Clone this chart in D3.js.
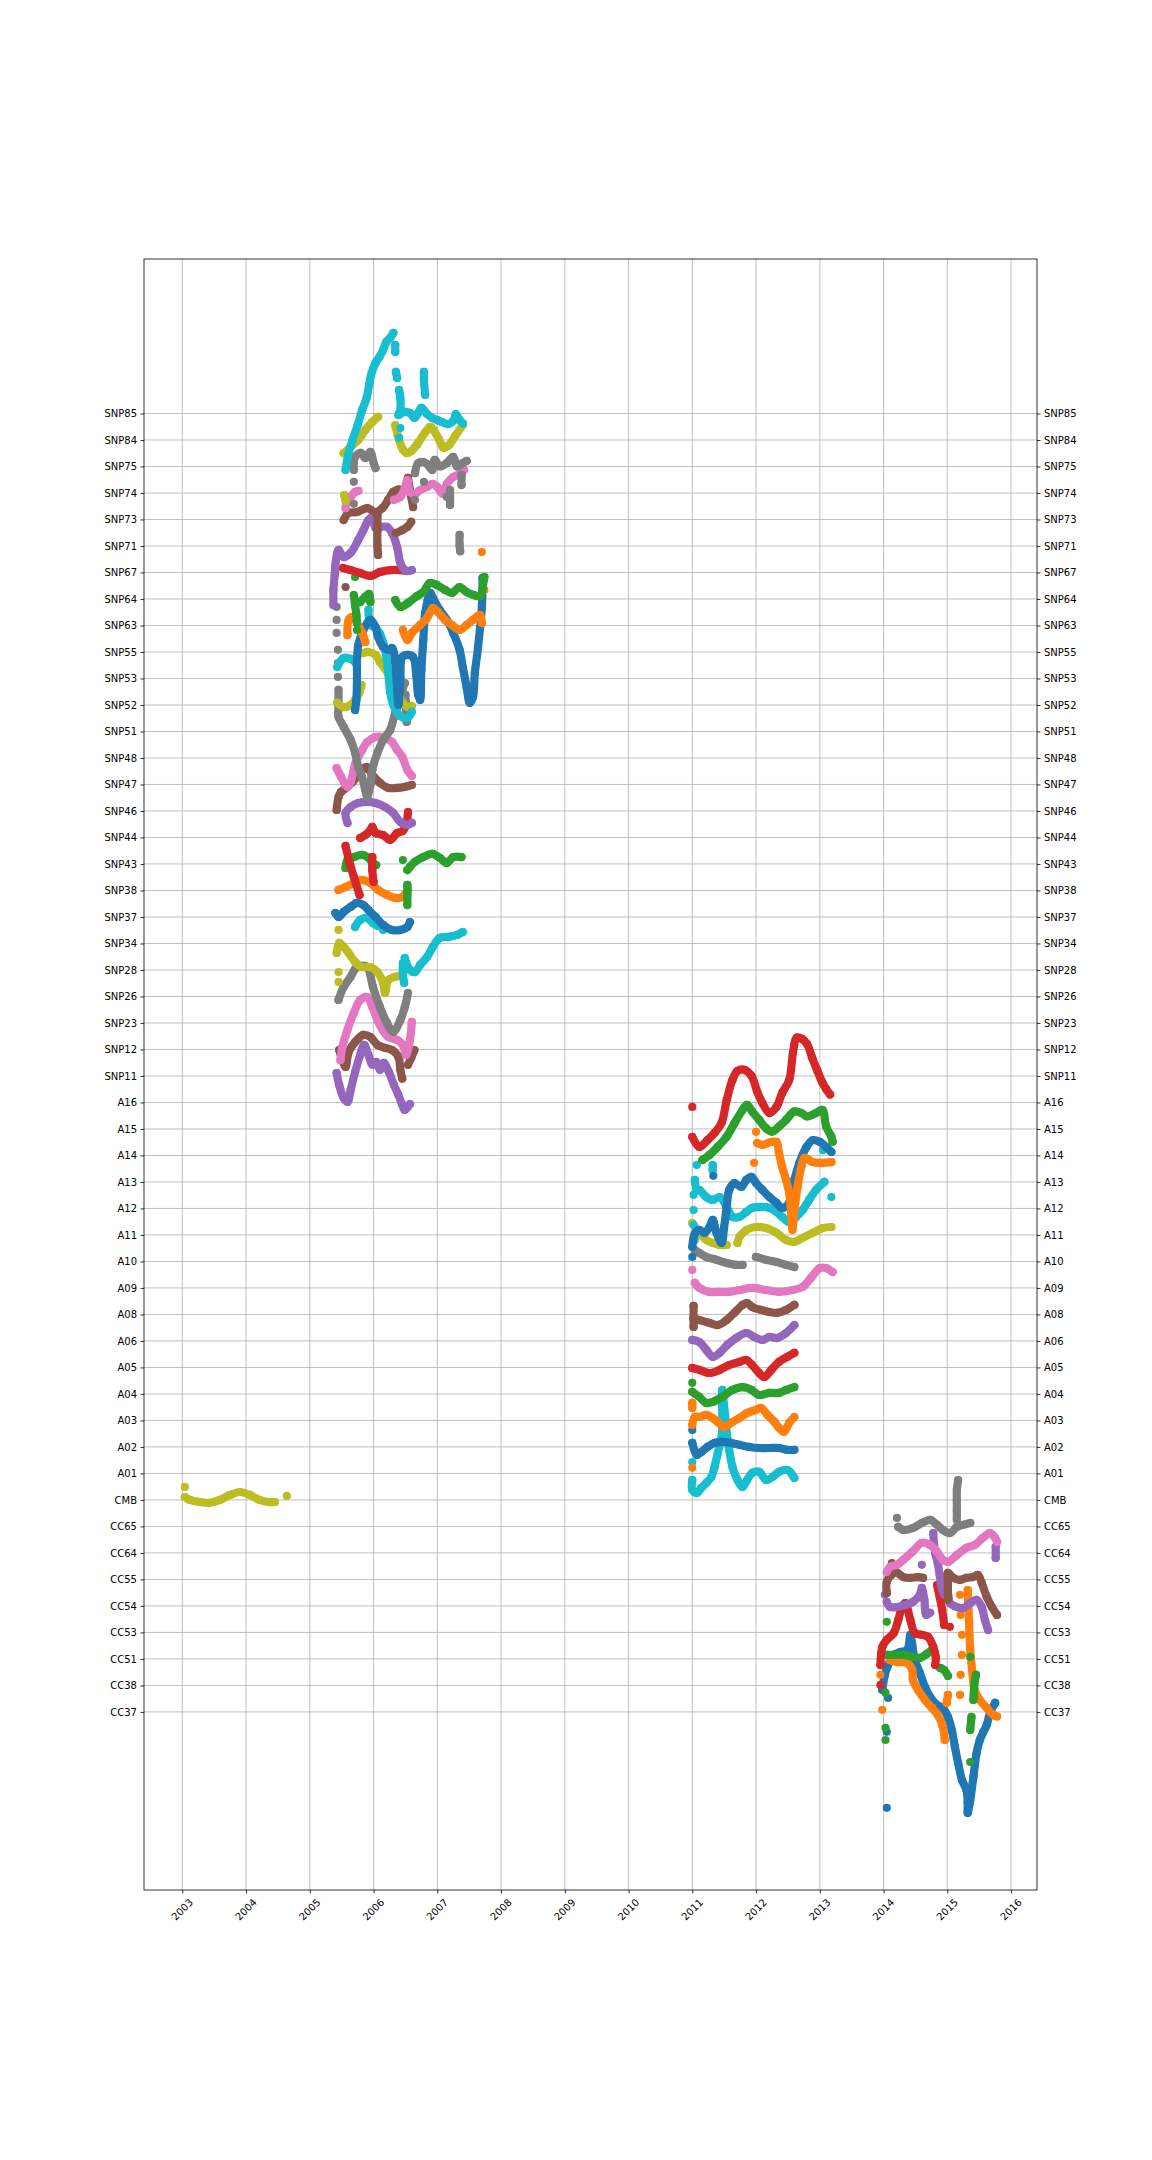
<!DOCTYPE html>
<html><head><meta charset="utf-8">
<script src="https://cdn.jsdelivr.net/npm/d3@7"></script>
<style>
body{margin:0;background:#fff}
svg{display:block}
text{font-family:"DejaVu Sans",sans-serif;font-size:10px;fill:#000}
</style>
</head><body>
<svg id="chart" width="1152" height="2160"></svg>
<script>
// ---------- categories (bottom to top) ----------
const categories = ["CC37","CC38","CC51","CC53","CC54","CC55","CC64","CC65","CMB",
 "A01","A02","A03","A04","A05","A06","A08","A09","A10","A11","A12","A13","A14","A15","A16",
 "SNP11","SNP12","SNP23","SNP26","SNP28","SNP34","SNP37","SNP38","SNP43","SNP44","SNP46","SNP47","SNP48",
 "SNP51","SNP52","SNP53","SNP55","SNP63","SNP64","SNP67","SNP71","SNP73","SNP74","SNP75","SNP84","SNP85"];
const palette = ["#1f77b4","#ff7f0e","#2ca02c","#d62728","#9467bd","#8c564b","#e377c2","#7f7f7f","#bcbd22","#17becf"];
const xTickYears = [2003,2004,2005,2006,2007,2008,2009,2010,2011,2012,2013,2014,2015,2016];

// ---------- series: [decimal year, offset from category row]; null breaks a run ----------
const s_CC37 = [[2014.07,0.53],null,[2014.05,-0.75],null,[2014.05,-3.62],null,
 [2013.98,0.83],[2014.02,1.4],[2014.07,1.77],[2014.16,2.15],[2014.26,2.26],[2014.37,2.34],[2014.42,2.91],[2014.45,2.53],[2014.49,1.96],[2014.57,1.47],[2014.65,0.94],[2014.73,0.57],[2014.84,0.26],[2014.93,0.15],[2015.01,-0.19],[2015.07,-0.68],[2015.12,-1.32],[2015.17,-1.92],[2015.23,-2.57],[2015.30,-2.94],[2015.32,-3.43],[2015.32,-3.81],[2015.36,-3.32],[2015.41,-2.45],[2015.46,-1.55],[2015.51,-1.06],[2015.56,-0.79],[2015.62,-0.49],[2015.67,-0.04],[2015.75,0.34]];
const s_CC38 = [[2013.95,0.4],null,[2013.98,-0.92],null,
 [2014.10,0.96],[2014.21,0.89],[2014.37,0.85],[2014.45,0.58],[2014.46,0.21],[2014.54,-0.17],[2014.65,-0.55],[2014.76,-0.85],[2014.85,-1.11],[2014.93,-1.57],[2014.96,-2.06],null,
 [2014.99,-0.66],[2015.01,-0.36],null,
 [2015.20,3.42],null,[2015.21,2.66],null,[2015.23,1.91],null,[2015.23,1.15],null,[2015.21,0.4],null,[2015.20,-0.36],null,
 [2015.32,3.6],[2015.34,2.47],[2015.36,1.34],[2015.39,0.58],[2015.43,-0.17],[2015.51,-0.55],[2015.62,-0.85],[2015.72,-1.11],[2015.78,-1.17]];
const s_CC51 = [[2014.05,1.40],null,[2014.03,-1.28],null,[2014.03,-2.6],null,[2014.03,-3.06],null,[2015.36,0.08],null,[2015.36,-3.89],null,
 [2014.05,0.15],[2014.16,0.15],[2014.31,0.15],[2014.46,0.08],[2014.57,0.04],[2014.68,0.19],[2014.76,0.34],null,
 [2014.89,-0.34],[2014.95,-0.42],[2015.01,-0.64],null,
 [2015.45,-0.6],[2015.42,-1.09],[2015.41,-1.55],null,[2015.38,-2.19],[2015.36,-2.68]];
const s_CC53 = [[2013.95,-1.23],[2013.98,-0.55],[2014.05,-0.28],[2014.16,-0.02],[2014.23,0.47],[2014.29,0.96],[2014.34,1.11],[2014.42,0.47],[2014.49,-0.02],[2014.60,-0.09],[2014.70,-0.17],[2014.78,-0.55],[2014.82,-0.96],[2014.81,-1.23],null,
 [2014.84,1.79],[2014.88,1.34],[2014.92,0.85],[2014.95,0.28],null,
 [2013.95,-1.98],null,[2015.04,0.21]];
const s_CC54 = [[2014.02,0.42],null,[2014.60,1.55],null,[2015.76,2.23],[2015.76,1.81],null,
 [2014.05,0.15],[2014.10,-0.04],[2014.21,-0.04],[2014.34,0.04],[2014.46,0.15],[2014.57,0.42],[2014.60,0.68],[2014.64,0.23],[2014.67,-0.34],[2014.73,-0.26],null,
 [2014.78,2.75],[2014.79,2.38],[2014.81,2.0],[2014.85,1.62],[2014.88,1.17],[2014.92,0.6],[2014.96,0.42],[2015.01,0.42],[2015.04,0.11],[2015.15,-0.04],[2015.25,-0.08],[2015.36,0.11],[2015.46,0.23],[2015.54,-0.04],[2015.59,-0.53],[2015.64,-0.91]];
const s_CC55 = [[2014.13,0.62],null,
 [2014.05,-0.51],[2014.05,-0.09],[2014.12,0.17],[2014.21,0.25],[2014.31,0.09],[2014.42,0.06],[2014.54,0.09],[2014.62,0.06],null,
 [2015.01,-0.77],[2015.01,-0.21],[2015.01,0.25],[2015.09,0.06],[2015.20,-0.02],[2015.30,0.06],[2015.40,0.09],[2015.48,0.17],[2015.54,-0.13],[2015.62,-0.66],[2015.70,-1.04],[2015.78,-1.34]];
const s_CC64 = [[2014.05,-0.72],[2014.10,-0.53],[2014.21,-0.45],[2014.31,-0.26],[2014.45,0.04],[2014.60,0.38],[2014.73,0.3],[2014.84,0.04],[2014.93,-0.26],[2015.01,-0.34],[2015.15,-0.08],[2015.30,0.19],[2015.43,0.3],[2015.56,0.57],[2015.67,0.75],[2015.75,0.57],[2015.78,0.42]];
const s_CC65 = [[2014.21,0.32],null,
 [2014.23,-0.02],[2014.31,-0.13],[2014.46,-0.06],[2014.60,0.13],[2014.73,0.25],[2014.84,0.06],[2014.93,-0.13],[2015.04,-0.25],[2015.15,-0.02],[2015.25,0.06],[2015.36,0.13],null,
 [2015.15,0.25],[2015.15,0.62],[2015.15,1.0],[2015.15,1.38],[2015.17,1.75]];
const s_CMB = [[2003.04,0.49],null,
 [2003.04,0.11],[2003.12,0],[2003.28,-0.08],[2003.43,-0.11],[2003.59,0],[2003.75,0.19],[2003.90,0.3],[2004.06,0.19],[2004.21,0],[2004.37,-0.08],[2004.45,-0.08],null,
 [2004.64,0.15]];
const s_A01 = [[2011.0,0.43],null,
 [2011.0,-0.25],[2011.0,-0.62],[2011.07,-0.74],[2011.14,-0.55],[2011.22,-0.36],[2011.30,-0.13],[2011.35,0.25],[2011.40,0.77],[2011.46,1.38],[2011.47,2.02],[2011.47,2.66],[2011.47,3.15],[2011.51,2.3],[2011.54,1.53],[2011.58,0.89],[2011.63,0.25],[2011.71,-0.25],[2011.79,-0.51],[2011.86,-0.25],[2011.94,0.02],[2012.05,0.06],[2012.16,-0.25],[2012.26,-0.13],[2012.36,0.06],[2012.49,0.13],[2012.60,-0.17]];
const s_A02 = [[2011.0,0.64],null,
 [2011.0,0.15],[2011.07,-0.3],[2011.14,-0.19],[2011.24,0],[2011.35,0.15],[2011.47,0.19],[2011.61,0.15],[2011.74,0.08],[2011.90,0],[2012.05,-0.04],[2012.21,-0.04],[2012.36,-0.04],[2012.49,-0.11],[2012.60,-0.11]];
const s_A03 = [[2011.0,0.66],[2011.0,0.47],null,[2011.0,-1.79],null,
 [2011.0,-0.17],[2011.04,0.13],[2011.11,0.13],[2011.22,0.21],[2011.32,0.09],[2011.40,-0.06],[2011.50,-0.25],[2011.63,-0.06],[2011.74,0.09],[2011.86,0.28],[2012.0,0.4],[2012.08,0.47],[2012.18,0.21],[2012.29,-0.06],[2012.36,-0.28],[2012.44,-0.43],[2012.52,-0.09],[2012.60,0.13]];
const s_A04 = [[2011.0,0.42],null,
 [2011.0,0.08],[2011.11,-0.11],[2011.22,-0.34],[2011.32,-0.3],[2011.47,-0.11],[2011.63,0.15],[2011.79,0.26],[2011.93,0.15],[2012.05,-0.04],[2012.21,0.04],[2012.36,0.04],[2012.47,0.15],[2012.60,0.26]];
const s_A05 = [[2011.0,-0.02],[2011.11,-0.09],[2011.27,-0.21],[2011.43,-0.09],[2011.58,0.09],[2011.74,0.21],[2011.85,0.28],[2011.94,0.09],[2012.05,-0.21],[2012.13,-0.36],[2012.24,-0.09],[2012.36,0.21],[2012.49,0.4],[2012.60,0.55]];
const s_A06 = [[2011.0,0.04],[2011.11,-0.04],[2011.22,-0.34],[2011.32,-0.6],[2011.43,-0.45],[2011.55,-0.15],[2011.69,0.11],[2011.85,0.3],[2011.97,0.15],[2012.10,0.04],[2012.21,0.15],[2012.33,0.11],[2012.47,0.3],[2012.60,0.6]];
const s_A08 = [[2011.02,0.32],[2011.02,-0.13],[2011.02,-0.47],null,
 [2011.02,-0.15],[2011.11,-0.21],[2011.27,-0.32],[2011.40,-0.40],[2011.54,-0.21],[2011.66,0.06],[2011.79,0.36],[2011.86,0.43],[2011.94,0.28],[2012.08,0.17],[2012.21,0.09],[2012.33,0.06],[2012.47,0.17],[2012.60,0.36]];
const s_A09 = [[2011.0,0.68],null,
 [2011.04,0.19],[2011.11,0],[2011.27,-0.15],[2011.43,-0.15],[2011.58,-0.15],[2011.74,-0.08],[2011.94,0],[2012.16,-0.08],[2012.36,-0.15],[2012.57,-0.08],[2012.73,0.04],[2012.86,0.38],[2013.0,0.75],[2013.10,0.75],[2013.20,0.6]];
const s_A10 = [[2011.04,0.43],[2011.11,0.32],[2011.22,0.17],[2011.38,0.06],[2011.54,-0.06],[2011.69,-0.13],[2011.79,-0.13],null,
 [2012.0,0.17],[2012.16,0.06],[2012.32,-0.02],[2012.47,-0.13],[2012.60,-0.21]];
const s_A11 = [[2011.0,0.45],[2011.11,0.08],[2011.22,-0.19],[2011.32,-0.3],[2011.43,-0.38],[2011.54,-0.38],null,
 [2011.71,-0.30],[2011.74,-0.08],[2011.85,0.19],[2012.0,0.3],[2012.16,0.26],[2012.32,0.08],[2012.47,-0.19],[2012.60,-0.26],[2012.73,-0.11],[2012.89,0.08],[2013.04,0.26],[2013.18,0.3]];
const s_A12 = [[2011.07,1.64],null,[2011.32,1.64],[2011.32,1.45],null,[2013.18,0.43],null,[2013.05,2.2],null,
 [2011.02,0.51],null,[2011.02,-0.06],null,[2011.02,-0.62],null,[2011.04,-1.19],null,
 [2011.04,1.08],[2011.07,0.7],[2011.11,0.7],[2011.22,0.43],[2011.32,0.32],[2011.43,0.43],[2011.54,0.06],[2011.63,-0.32],[2011.74,-0.32],[2011.85,-0.13],[2011.94,0.02],[2012.08,0.06],[2012.21,0.02],[2012.32,-0.13],[2012.41,-0.32],[2012.52,-0.51],[2012.63,-0.32],[2012.73,-0.06],[2012.83,0.32],[2012.94,0.70],[2013.07,1.0]];
const s_A13 = [[2011.0,-2.83],null,[2011.33,0.23],null,
 [2011.0,-2.45],[2011.04,-1.94],[2011.11,-1.81],[2011.19,-1.92],[2011.27,-1.70],[2011.32,-1.43],[2011.38,-1.92],[2011.46,-2.30],[2011.50,-1.70],[2011.54,-0.94],[2011.58,-0.30],[2011.66,-0.04],[2011.77,-0.19],[2011.85,0.08],[2011.93,0.19],[2012.0,-0.04],[2012.10,-0.30],[2012.21,-0.57],[2012.32,-0.79],[2012.41,-0.98],[2012.52,-0.79],[2012.60,0.08],[2012.68,0.72],[2012.79,1.32],[2012.89,1.58],[2013.0,1.51],[2013.10,1.32],[2013.18,1.13]];
const s_A14 = [[2012.0,0.89],null,[2011.97,-0.28],null,
 [2012.02,0.47],[2012.10,0.40],[2012.24,0.51],[2012.32,0.51],[2012.36,0.09],[2012.41,-0.43],[2012.47,-0.92],[2012.52,-1.42],[2012.55,-2.17],[2012.57,-2.81],[2012.60,-2.06],[2012.65,-1.19],[2012.71,-0.43],[2012.76,-0.09],[2012.89,-0.25],[2013.02,-0.28],[2013.18,-0.25]];
const s_A15 = [[2011.16,-1.17],[2011.27,-0.98],[2011.40,-0.67],[2011.54,-0.29],[2011.66,0.21],[2011.79,0.72],[2011.86,0.91],[2011.94,0.66],[2012.05,0.34],[2012.16,0.02],[2012.25,-0.1],[2012.36,0.09],[2012.47,0.34],[2012.60,0.66],[2012.71,0.6],[2012.80,0.47],[2012.94,0.6],[2013.04,0.72],[2013.10,0.08],[2013.18,-0.29],[2013.20,-0.48]];
const s_A16 = [[2011.0,-0.17],null,
 [2011.0,-1.30],[2011.11,-1.68],[2011.24,-1.42],[2011.35,-1.15],[2011.46,-0.77],[2011.54,0.09],[2011.63,0.85],[2011.71,1.19],[2011.82,1.23],[2011.93,1.0],[2012.02,0.40],[2012.10,-0.02],[2012.21,-0.4],[2012.32,-0.17],[2012.41,0.36],[2012.52,0.85],[2012.58,1.9],[2012.64,2.45],[2012.72,2.4],[2012.80,2.2],[2012.88,1.68],[2012.96,1.2],[2013.04,0.75],[2013.10,0.5],[2013.16,0.3]];
const s_SNP11 = [[2005.42,0.11],[2005.46,-0.34],[2005.53,-0.83],[2005.59,-0.98],[2005.64,-0.53],[2005.71,0.15],[2005.79,0.79],[2005.85,1.17],[2005.92,0.79],[2005.98,0.42],[2006.04,0.53],[2006.10,0.23],[2006.16,0.49],[2006.24,0.15],[2006.32,-0.34],[2006.39,-0.72],[2006.45,-1.09],[2006.49,-1.28],[2006.57,-1.06]];
const s_SNP12 = [[2005.46,-0.02],[2005.51,-0.4],[2005.56,-0.66],[2005.61,-0.09],[2005.71,0.28],[2005.84,0.55],[2005.95,0.47],[2006.06,0.17],[2006.18,0.06],[2006.29,-0.02],[2006.39,-0.28],[2006.42,-0.77],[2006.45,-1.1],null,
 [2006.54,-0.58],[2006.59,-0.32],[2006.64,-0.02]];
const s_SNP23 = [[2005.48,-1.4],[2005.51,-0.91],[2005.59,-0.26],[2005.69,0.38],[2005.79,0.87],[2005.90,0.98],[2005.98,0.6],[2006.06,0.11],[2006.14,-0.26],[2006.23,-0.53],[2006.37,-0.64],[2006.46,-0.83],[2006.51,-1.21],[2006.57,-0.64],[2006.60,0.04]];
const s_SNP26 = [[2005.45,-0.13],[2005.53,0.36],[2005.64,0.74],[2005.71,1.04],[2005.79,1.15],[2005.90,1.11],[2005.99,0.36],[2006.10,-0.4],[2006.21,-1.0],[2006.31,-1.34],[2006.42,-0.89],[2006.49,-0.4],[2006.54,0.13]];
const s_SNP28 = [[2005.45,1.51],null,[2005.45,-0.08],null,[2005.45,-0.45],null,
 [2005.42,0.64],[2005.46,1.02],[2005.53,0.87],[2005.61,0.64],[2005.71,0.3],[2005.82,0.11],[2005.95,0.11],[2006.06,-0.08],[2006.15,-0.49],[2006.18,-0.87],[2006.23,-0.38],[2006.34,-0.26],[2006.46,-0.19]];
const s_SNP34 = [[2005.71,0.62],[2005.79,0.89],[2005.90,0.96],[2005.99,0.77],[2006.07,0.66],null,[2006.15,0.51],null,
 [2006.46,-0.74],[2006.46,-1.19],[2006.48,-1.49],null,
 [2006.49,-0.55],[2006.57,-1.0],[2006.65,-1.08],[2006.73,-0.81],[2006.84,-0.51],[2006.93,-0.13],[2007.04,0.21],[2007.17,0.25],[2007.31,0.32],[2007.40,0.43]];
const s_SNP37 = [[2005.40,0.15],[2005.45,0],[2005.53,0.19],[2005.64,0.38],[2005.74,0.53],[2005.84,0.45],[2005.92,0.26],[2006.03,0],[2006.15,-0.3],[2006.29,-0.49],[2006.42,-0.49],[2006.53,-0.38],[2006.57,-0.19]];
const s_SNP38 = [[2005.45,0.02],[2005.56,0.13],[2005.69,0.28],[2005.82,0.4],[2005.95,0.28],[2006.07,0.02],[2006.21,-0.17],[2006.34,-0.28],[2006.45,-0.25],[2006.54,0.02]];
const s_SNP43 = [[2005.56,-0.15],[2005.59,0.15],[2005.69,0.26],[2005.82,0.34],[2005.92,0.23],[2005.99,0.04],[2006.04,-0.04],null,
 [2006.46,0.15],null,[2006.53,-0.79],[2006.53,-1.17],[2006.53,-1.55],null,
 [2006.53,-0.23],[2006.57,-0.11],[2006.65,0.08],[2006.78,0.26],[2006.92,0.38],[2007.04,0.23],[2007.15,0.04],[2007.25,0.26],[2007.38,0.26]];
const s_SNP44 = [[2005.79,-0.02],[2005.87,0.09],[2005.95,0.28],[2005.98,0.4],[2006.03,0.17],[2006.15,0.09],[2006.26,-0.09],[2006.37,0.17],[2006.46,0.25],[2006.51,0.47],[2006.54,0.96],null,
 [2005.56,-0.32],[2005.62,-0.92],[2005.69,-1.49],[2005.78,-2.17],null,
 [2005.98,-0.74],[2005.98,-1.23],[2006.0,-1.68]];
const s_SNP46 = [[2005.59,-0.45],[2005.56,-0.08],[2005.64,0.15],[2005.76,0.3],[2005.90,0.34],[2006.03,0.3],[2006.18,0.15],[2006.31,-0.08],[2006.42,-0.42],[2006.53,-0.53],[2006.60,-0.45]];
const s_SNP47 = [[2005.42,-0.96],[2005.45,-0.47],[2005.49,-0.28],[2005.59,-0.09],[2005.67,0.09],[2005.76,0.36],[2005.82,0.55],[2005.89,0.66],[2005.98,0.36],[2006.10,0.06],[2006.23,-0.13],[2006.37,-0.13],[2006.49,-0.09],[2006.60,-0.02]];
const s_SNP48 = [[2005.42,-0.38],[2005.49,-0.72],[2005.59,-1.09],[2005.64,-0.91],[2005.71,-0.23],[2005.82,0.3],[2005.90,0.6],[2006.03,0.79],[2006.15,0.79],[2006.29,0.6],[2006.37,0.3],[2006.45,0.04],[2006.53,-0.45],[2006.60,-0.68]];
const s_SNP51 = [[2005.42,4.70],null,[2005.42,4.21],null,[2005.42,3.72],null,[2005.44,3.08],null,[2005.44,2.58],null,[2005.44,2.06],null,[2005.45,1.57],[2005.45,1.0],[2005.45,0.55],
 [2005.53,0.17],[2005.64,-0.32],[2005.71,-0.81],[2005.76,-1.34],[2005.82,-1.72],[2005.87,-2.21],[2005.90,-2.47],[2005.95,-2.02],[2005.98,-1.45],[2006.06,-0.81],[2006.15,-0.32],[2006.26,0.06],[2006.34,0.7],[2006.42,1.19],[2006.46,1.64],[2006.49,1.83],null,
 [2006.50,1.38],[2006.51,0.81],[2006.52,0.36]];
const s_SNP52 = [[2005.43,0.08],[2005.53,-0.08],[2005.64,0],[2005.71,0.19],[2005.78,0.49],[2005.81,0.75],null,
 [2005.84,1.96],[2005.92,2.0],[2006.03,1.89],[2006.10,1.62],[2006.17,1.4],[2006.23,1.17],[2006.29,0.83],[2006.39,0.38],[2006.46,0.08],[2006.54,-0.08],[2006.60,-0.04]];
const s_SNP53 = [[2005.43,0.43],[2005.53,0.77],[2005.64,0.74],[2005.73,0.55],null,
 [2005.92,2.59],[2005.95,2.02],[2006.03,1.91],[2006.10,1.68],[2006.18,1.08],[2006.23,0.25],[2006.26,-0.51],[2006.31,-1.0],[2006.42,-1.42],[2006.53,-1.49],[2006.60,-1.26]];
const s_SNP55 = [[2005.71,-2.19],[2005.73,-1.81],[2005.74,-1.06],[2005.74,-0.3],[2005.76,0.26],[2005.82,0.72],[2005.90,1.09],[2005.95,1.21],[2006.03,0.94],[2006.07,0.57],[2006.15,0.19],[2006.23,0.08],[2006.29,0.15],[2006.34,-0.38],[2006.37,-1.43],[2006.39,-2.0],[2006.42,-1.06],[2006.45,-0.19],[2006.54,-0.11],[2006.62,-0.19],[2006.67,-0.87],[2006.70,-1.62],[2006.73,-1.81],[2006.75,-0.68],[2006.78,0.45],[2006.81,1.47],[2006.85,1.96],[2006.89,2.23],[2006.93,2.04],[2007.04,1.58],[2007.15,1.21],[2007.25,0.72],[2007.35,0.08],[2007.40,-0.57],[2007.46,-1.32],[2007.51,-1.92],[2007.56,-1.7],[2007.59,-0.79],[2007.64,0.19],[2007.70,1.7],[2007.71,2.79]];
const s_SNP63 = [[2005.59,-0.36],[2005.61,0.21],[2005.67,0.32],[2005.74,0.09],[2005.82,-0.28],[2005.87,-0.62],null,
 [2006.46,-0.17],[2006.53,-0.55],[2006.60,-0.28],[2006.73,0.02],[2006.84,0.28],[2006.93,0.66],[2007.01,0.51],[2007.12,0.21],[2007.23,0.02],[2007.35,-0.17],[2007.46,0.02],[2007.56,0.21],[2007.67,0.4],[2007.70,0.09],null,
 [2007.74,1.34],null,[2007.70,2.77]];
const s_SNP64 = [[2005.71,0.83],null,[2005.69,0.15],[2005.71,-0.23],[2005.73,-0.6],[2005.74,-0.91],null,
 [2005.79,-0.11],[2005.87,0.08],[2005.93,0.19],[2005.95,-0.11],null,[2005.74,-1.17],null,
 [2006.34,-0.04],[2006.42,-0.30],[2006.54,-0.15],[2006.68,0.11],[2006.78,0.26],[2006.88,0.6],[2006.99,0.53],[2007.12,0.34],[2007.23,0.23],[2007.35,0.45],[2007.46,0.26],[2007.57,0.15],[2007.67,0.11],[2007.73,0.72],[2007.74,0.83]];
const s_SNP67 = [[2005.52,0.17],[2005.64,0.09],[2005.79,-0.02],[2005.95,-0.13],[2006.10,0.02],[2006.26,0.09],[2006.42,0.09],[2006.52,0.06]];
const s_SNP71 = [[2005.37,-2.23],[2005.37,-1.66],[2005.39,-1.09],[2005.40,-0.72],[2005.45,-0.15],[2005.53,-0.42],[2005.64,-0.26],[2005.76,0.23],[2005.84,0.6],[2005.92,0.98],[2005.98,1.1],[2006.03,0.68],[2006.10,0.72],[2006.21,0.72],[2006.29,0.49],[2006.37,-0.04],[2006.42,-0.64],[2006.51,-0.94],[2006.60,-0.91]];
const s_SNP73 = [[2005.53,-0.02],[2005.61,0.25],[2005.74,0.28],[2005.90,0.43],[2006.03,0.28],[2006.14,0.43],[2006.23,0.74],[2006.31,1.04],[2006.39,1.13],null,
 [2006.06,0.17],[2006.06,-0.4],[2006.06,-0.96],[2006.07,-1.34],null,
 [2006.35,-0.51],[2006.45,-0.4],[2006.53,-0.28],[2006.59,-0.09],null,
 [2006.54,1.57],[2006.57,1.11],[2006.60,0.74],[2006.62,0.47],null,[2005.56,-2.55]];
const s_SNP74 = [[2005.56,-0.57],[2005.59,-0.26],[2005.64,-0.15],[2005.71,0.04],[2005.76,0.08],null,
 [2006.32,-0.26],[2006.42,-0.15],[2006.49,0.19],[2006.53,0.49],[2006.57,0.04],[2006.65,-0.04],[2006.73,0.11],[2006.84,0.23],[2006.93,0.34],[2007.0,0.23],[2007.09,-0.04],[2007.15,0.34],[2007.25,0.6],[2007.35,0.72],[2007.42,0.87]];
const s_SNP75 = [[2005.69,-0.13],[2005.71,0.36],[2005.80,0.51],[2005.87,0.32],[2005.95,0.55],[2006.0,0.13],[2006.03,-0.06],null,[2005.69,-0.58],null,[2005.69,-1.41],null,
 [2006.65,-0.25],[2006.70,0.13],[2006.78,0.17],[2006.84,0.09],[2006.92,-0.13],[2006.96,0.25],[2007.04,0],[2007.15,0.13],[2007.25,0.36],[2007.31,0],[2007.40,0.13],[2007.46,0.21],null,
 [2006.65,-1.26],null,[2006.79,-0.58],null,[2007.15,-1.15],null,[2007.2,-0.89],[2007.2,-1.45],null,[2007.38,-0.32],[2007.38,-0.70],null,
 [2007.35,-2.58],[2007.35,-2.96],[2007.36,-3.2],null,[2006.68,0.81]];
const s_SNP84 = [[2005.54,-2.08],[2005.56,-2.3],null,
 [2005.53,-0.5],[2005.64,-0.26],[2005.76,0],[2005.87,0.38],[2005.98,0.68],[2006.07,0.87],null,
 [2006.34,0.56],[2006.40,0.0],[2006.46,-0.36],[2006.52,-0.5],[2006.60,-0.4],[2006.70,-0.1],[2006.80,0.25],[2006.89,0.5],[2006.95,0.35],[2007.03,0.0],[2007.10,-0.3],[2007.18,-0.2],[2007.28,0.15],[2007.40,0.56]];
const s_SNP85 = [[2005.56,-2.13],[2005.60,-1.57],[2005.67,-1.0],[2005.75,-0.43],[2005.82,0.13],[2005.89,0.58],[2005.93,1.08],[2005.96,1.45],[2006.03,1.91],[2006.09,2.13],[2006.15,2.40],[2006.20,2.70],[2006.26,2.85],[2006.31,3.04],null,
 [2006.34,2.58],[2006.34,2.32],null,[2006.35,1.57],[2006.37,1.34],null,
 [2006.40,0.89],[2006.42,0.58],[2006.42,0.13],[2006.39,-0.06],[2006.48,0.06],[2006.57,0.02],[2006.64,-0.17],[2006.70,0.02],[2006.75,0.21],[2006.84,-0.02],[2006.92,-0.17],[2007.00,-0.25],[2007.07,-0.32],[2007.17,-0.40],[2007.26,-0.25],[2007.29,-0.02],[2007.35,-0.25],[2007.40,-0.37],null,
 [2006.79,1.57],[2006.79,1.26],[2006.81,0.70],null,[2006.42,-0.55],null,[2006.40,-0.92]];

// series in category order (same order as `categories`)
const seriesList = [s_CC37,s_CC38,s_CC51,s_CC53,s_CC54,s_CC55,s_CC64,s_CC65,s_CMB,
 s_A01,s_A02,s_A03,s_A04,s_A05,s_A06,s_A08,s_A09,s_A10,s_A11,s_A12,s_A13,s_A14,s_A15,s_A16,
 s_SNP11,s_SNP12,s_SNP23,s_SNP26,s_SNP28,s_SNP34,s_SNP37,s_SNP38,s_SNP43,s_SNP44,s_SNP46,s_SNP47,s_SNP48,
 s_SNP51,s_SNP52,s_SNP53,s_SNP55,s_SNP63,s_SNP64,s_SNP67,s_SNP71,s_SNP73,s_SNP74,s_SNP75,s_SNP84,s_SNP85];

// ---------- drawing ----------
const L = 144, R = 1037, T = 259, B = 1890;
const toDate = yv => { const yr = Math.floor(yv); const a = Date.UTC(yr,0,1), b = Date.UTC(yr+1,0,1); return new Date(a + (yv-yr)*(b-a)); };
const x = d3.scaleUtc().domain([toDate(2002.399), toDate(2016.407)]).range([L, R]);
const y = d3.scaleLinear().domain([-6.72, 54.83]).range([B, T]);
const svg = d3.select("#chart");
svg.append("rect").attr("width",1152).attr("height",2160).attr("fill","#fff");

const gridColor = "#b0b0b0";
const grid = svg.append("g");
grid.selectAll("line.v").data(xTickYears).join("line")
  .attr("x1", d => x(toDate(d))).attr("x2", d => x(toDate(d)))
  .attr("y1", T).attr("y2", B).attr("stroke", gridColor).attr("stroke-width", 0.8);
grid.selectAll("line.h").data(d3.range(categories.length)).join("line")
  .attr("x1", L).attr("x2", R).attr("y1", d => y(d)).attr("y2", d => y(d))
  .attr("stroke", gridColor).attr("stroke-width", 0.8);

const plot = svg.append("g");
const DOT = 4.1;
seriesList.forEach((ser, i) => {
  const color = palette[i % 10];
  const g = plot.append("g");
  const segs = [];
  let cur = [];
  ser.forEach(p => { if (p === null) { if (cur.length) segs.push(cur); cur = []; } else cur.push(p); });
  if (cur.length) segs.push(cur);
  const line = d3.line().x(d => x(toDate(d[0]))).y(d => y(i + d[1])).curve(d3.curveCatmullRom.alpha(0.5));
  segs.filter(s => s.length > 1).forEach(s => {
    g.append("path").attr("d", line(s)).attr("fill","none").attr("stroke", color)
      .attr("stroke-width", DOT*2).attr("stroke-linecap","round").attr("stroke-linejoin","round");
  });
  g.selectAll("circle").data(ser.filter(p => p !== null)).join("circle")
    .attr("cx", d => x(toDate(d[0]))).attr("cy", d => y(i + d[1])).attr("r", DOT).attr("fill", color);
});

// axes
const yLeft = d3.axisLeft(y).tickValues(d3.range(categories.length)).tickFormat(d => categories[d]).tickSize(3.5).tickPadding(3.5);
const yRight = d3.axisRight(y).tickValues(d3.range(categories.length)).tickFormat(d => categories[d]).tickSize(3.5).tickPadding(3.5);
const xBottom = d3.axisBottom(x).tickValues(xTickYears.map(toDate)).tickFormat("").tickSize(3.5);
const styleAxis = g => { g.select(".domain").remove(); g.selectAll("line").attr("stroke","#000").attr("stroke-width",0.8);
  g.selectAll("text").attr("fill","#000").style("font-family","'DejaVu Sans',sans-serif").style("font-size","10px"); };
svg.append("g").attr("transform",`translate(${L},0)`).call(yLeft).call(styleAxis);
svg.append("g").attr("transform",`translate(${R},0)`).call(yRight).call(styleAxis);
svg.append("g").attr("transform",`translate(0,${B})`).call(xBottom).call(styleAxis);
svg.append("g").selectAll("text").data(xTickYears).join("text")
  .attr("x", d => x(toDate(d))).attr("y", B + 19.5)
  .attr("text-anchor","middle").attr("dominant-baseline","central")
  .attr("transform", d => `rotate(-45,${x(toDate(d))},${B + 19.5})`)
  .text(d => String(d));

svg.append("rect").attr("x",L).attr("y",T).attr("width",R-L).attr("height",B-T)
  .attr("fill","none").attr("stroke","#000").attr("stroke-width",0.8);
</script>
</body></html>
